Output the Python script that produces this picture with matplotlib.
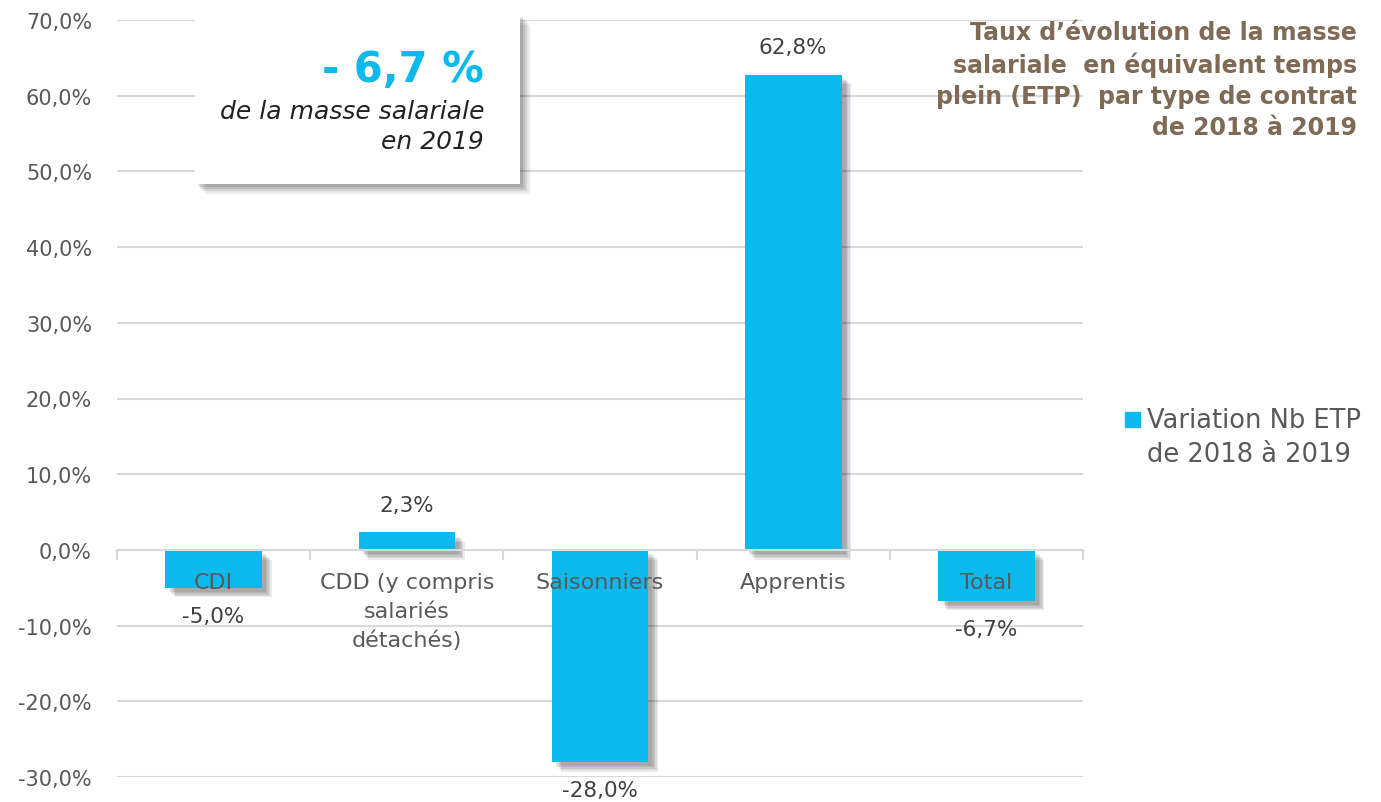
import matplotlib.pyplot as plt
import matplotlib.patheffects as pe
from matplotlib.patches import Rectangle
from matplotlib.ticker import FuncFormatter

# Données
categories = ['CDI', 'CDD (y compris\nsalariés\ndétachés)', 'Saisonniers', 'Apprentis', 'Total']
variations = [-5.0, 2.3, -28.0, 62.8, -6.7]
serie = 'Variation Nb ETP\nde 2018 à 2019'
titre = "Taux d’évolution de la masse\nsalariale  en équivalent temps\nplein (ETP)  par type de contrat\nde 2018 à 2019"
chiffre_cle = '- 6,7 %'
chiffre_texte = 'de la masse salariale\nen 2019'

bleu = '#0BB9EC'
gris = '#595959'
brun = '#7E6A55'

plt.rcParams['font.family'] = ['DejaVu Sans']


def pct(v, pos=None):
    return f'{v:.1f}%'.replace('.', ',')


fig = plt.figure(figsize=(13.81, 8.03), dpi=100)
ax = fig.add_axes([117 / 1381, 1 - 778 / 803, 966 / 1381, 757 / 803])

x = list(range(len(categories)))
ombre = [pe.SimplePatchShadow(offset=(o, -o), shadow_rgbFace='#000000', alpha=0.08) for o in (7, 6, 5, 4, 3)]
bars = ax.bar(x, variations, width=0.5, color=bleu, zorder=2)
for b in bars:
    b.set_path_effects(ombre + [pe.Normal()])

# étiquettes de valeurs
for xi, v in zip(x, variations):
    ax.annotate(pct(v), (xi, v), xytext=(0, 20 if v > 0 else -20.5), textcoords='offset points',
                ha='center', va='center', fontsize=15.5, color='#404040', zorder=6)

ax.set_xlim(-0.5, len(categories) - 0.5)
ax.set_ylim(-30, 70)
ax.set_yticks(range(-30, 71, 10))
ax.yaxis.set_major_formatter(FuncFormatter(pct))
ax.grid(axis='y', color='#D9D9D9', linewidth=1.5)
ax.set_axisbelow(True)
ax.xaxis.set_zorder(5)

for s in ['top', 'right', 'left']:
    ax.spines[s].set_visible(False)
ax.spines['bottom'].set_position(('data', 0))
ax.spines['bottom'].set_color('#D9D9D9')
ax.spines['bottom'].set_linewidth(1.5)

ax.set_xticks([i - 0.5 for i in range(len(categories) + 1)])
ax.set_xticklabels([])
ax.set_xticks(x, minor=True)
ax.set_xticklabels(categories, minor=True, fontsize=16, color=gris, linespacing=1.55)
ax.tick_params(axis='x', which='major', length=7, color='#D9D9D9', width=1.5, direction='out')
ax.tick_params(axis='x', which='minor', length=0, pad=16)
ax.tick_params(axis='y', length=0, labelsize=15, labelcolor=gris, pad=18)

# Titre
fig.text(1357 / 1381, 1 - 21 / 803, titre, ha='right', va='top', fontsize=17, fontweight='bold',
         color=brun, linespacing=1.37)

# Légende
fig.patches.append(Rectangle((1125 / 1381, 1 - 428 / 803), 15 / 1381, 15 / 803,
                             transform=fig.transFigure, color=bleu))
fig.text(1147 / 1381, 1 - 408 / 803, serie, ha='left', va='top', fontsize=18.5, color=gris, linespacing=1.38)

# Encadré
for k, a in [(11, 0.04), (9, 0.06), (7, 0.08), (5, 0.1), (3, 0.1)]:
    fig.patches.append(Rectangle(((195 + k) / 1381, 1 - (185 + k) / 803), 325 / 1381, 170 / 803,
                                 transform=fig.transFigure, color='#000000', alpha=a, lw=0, zorder=8))
fig.patches.append(Rectangle((195 / 1381, 1 - 185 / 803), 325 / 1381, 170 / 803,
                             transform=fig.transFigure, color='white', lw=0, zorder=9))
fig.text(484 / 1381, 1 - 70 / 803, chiffre_cle, ha='right', va='center', fontsize=30, fontweight='bold',
         color=bleu, zorder=10)
fig.text(484 / 1381, 1 - 100 / 803, chiffre_texte, ha='right', va='top', fontsize=18, style='italic',
         color='#222222', linespacing=1.32, zorder=10)

plt.savefig('out.png', dpi=100)
